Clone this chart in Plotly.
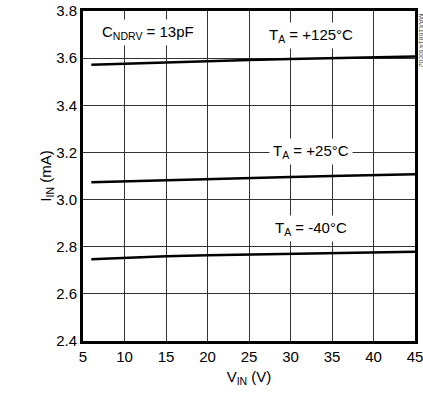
import plotly.graph_objects as go

vin = [6, 8, 10, 12, 15, 20, 25, 30, 35, 40, 45]
i_125 = [3.572, 3.573, 3.576, 3.578, 3.582, 3.588, 3.592, 3.596, 3.600, 3.604, 3.607]
i_25 = [3.074, 3.076, 3.079, 3.081, 3.084, 3.088, 3.092, 3.096, 3.100, 3.104, 3.107]
i_m40 = [2.747, 2.750, 2.754, 2.757, 2.760, 2.764, 2.767, 2.770, 2.774, 2.778, 2.779]

x_ticks = [5, 10, 15, 20, 25, 30, 35, 40, 45]
y_ticks = [2.4, 2.6, 2.8, 3.0, 3.2, 3.4, 3.6, 3.8]

FONT = "Liberation Sans Narrow, Arial Narrow, Liberation Sans, sans-serif"

fig = go.Figure()
for ys in (i_125, i_25, i_m40):
    fig.add_trace(go.Scatter(x=vin, y=ys, mode="lines",
                             line=dict(color="black", width=2.5),
                             showlegend=False, hoverinfo="skip"))

ann_font = dict(family=FONT, size=15, color="black")
annots = [
    (12.8, 3.707, "C<sub>NDRV</sub> = 13pF"),
    (32.5, 3.698, "T<sub>A</sub> = +125°C"),
    (32.5, 3.202, "T<sub>A</sub> = +25°C"),
    (32.5, 2.879, "T<sub>A</sub> = -40°C"),
]
for x, y, t in annots:
    fig.add_annotation(x=x, y=y, text=t, showarrow=False, font=ann_font,
                       bgcolor="white", borderpad=3)

fig.add_annotation(xref="paper", yref="paper", x=1.0, y=1.0, xanchor="left", yanchor="top",
                   xshift=1, text="MAX16814 toc02", textangle=90, showarrow=False,
                   font=dict(family=FONT, size=7, color="#555"))

fig.update_xaxes(range=[5, 45], tickvals=x_ticks, ticktext=[str(v) for v in x_ticks],
                 showgrid=True, gridcolor="#333", gridwidth=1,
                 showline=True, linecolor="black", linewidth=3, mirror=True,
                 ticks="", zeroline=False, automargin=False, ticklabeloverflow="allow",
                 tickfont=dict(family=FONT, size=15, color="black"),
                 title=dict(text="V<sub>IN</sub> (V)", font=dict(family=FONT, size=15, color="black"),
                            standoff=8))
fig.update_yaxes(range=[2.4, 3.8], tickvals=y_ticks, ticktext=[f"{v:.1f}" for v in y_ticks],
                 showgrid=True, gridcolor="#333", gridwidth=1,
                 showline=True, linecolor="black", linewidth=3, mirror=True,
                 ticks="", zeroline=False, automargin=False, ticklabeloverflow="allow",
                 tickfont=dict(family=FONT, size=15, color="black"),
                 title=dict(text="I<sub>IN</sub> (mA)", font=dict(family=FONT, size=15, color="black"),
                            standoff=0))

fig.update_layout(width=423, height=404, plot_bgcolor="white", paper_bgcolor="white",
                  margin=dict(l=83, r=8, t=11, b=63))

# remove the page's default 8px body margin so the figure fills the 423x404 window
fig.write_html("out.html", config={"displayModeBar": False},
               post_script="document.body.style.margin='0';"
                           "document.documentElement.style.overflow='hidden';")
